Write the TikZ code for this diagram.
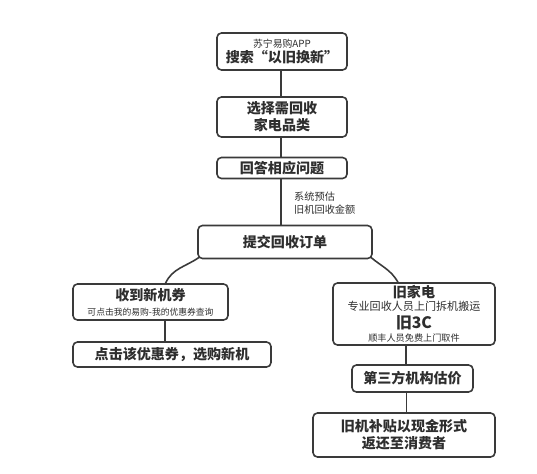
\documentclass[tikz,border=0pt]{standalone}
\usepackage{fontspec}
\usepackage{tikz}
\usetikzlibrary{positioning}
\newfontfamily\cjk{Noto Sans CJK SC}
\definecolor{boxline}{HTML}{3A3A3A}
\definecolor{boxtext}{HTML}{2E2E2E}

\begin{document}
\begin{tikzpicture}[x=0.02cm, y=-0.02cm,
  stepbox/.style={draw=boxline, line width=0.9pt, rounded corners=2.5pt, fill=white,
    align=center, inner sep=0pt, text=boxtext, font=\cjk\bfseries\fontsize{8}{9.5}\selectfont},
  small/.style={font=\cjk\fontsize{5.4}{6}\selectfont},
  link/.style={draw=boxline, line width=0.9pt}
]
  \useasboundingbox (0,0) rectangle (537,473);
  \node[stepbox, minimum width=2.6cm, minimum height=0.74cm] (app) at (282,51.5)
    {{\cjk\mdseries\fontsize{5.6}{6}\selectfont 苏宁易购APP}\\[-1pt]搜索“以旧换新”};
  \node[stepbox, minimum width=2.6cm, minimum height=0.8cm] (kind) at (282,117)
    {选择需回收\\家电品类};
  \node[stepbox, minimum width=2.6cm, minimum height=0.42cm] (answer) at (282,168)
    {回答相应问题};
  \node[stepbox, minimum width=3.48cm, minimum height=0.66cm] (order) at (285,242)
    {提交回收订单};
  \node[anchor=west, align=left, text=boxtext, font=\cjk\fontsize{5.8}{7.5}\selectfont]
    (estimate) at (288,203) {系统预估\\旧机回收金额};
  \node[stepbox, minimum width=3.1cm, minimum height=0.72cm] (coupon) at (150.5,302)
    {收到新机券\\[-1pt]{\cjk\mdseries\fontsize{5}{6}\selectfont 可点击我的易购-我的优惠券查询}};
  \node[stepbox, minimum width=3.96cm, minimum height=0.5cm] (buy) at (172,354.5)
    {点击该优惠券，选购新机};
  \node[stepbox, minimum width=3.24cm, minimum height=1.24cm] (old) at (414,314)
    {旧家电\\[-2pt]{\cjk\mdseries\fontsize{6.3}{7}\selectfont 专业回收人员上门拆机搬运}\\[0.5pt]
     {\fontsize{9}{9}\selectfont 旧3C}\\[-2pt]{\cjk\mdseries\fontsize{5.2}{6}\selectfont 顺丰人员免费上门取件}};
  \node[stepbox, minimum width=2.42cm, minimum height=0.54cm] (third) at (412.5,378.5)
    {第三方机构估价};
  \node[stepbox, minimum width=3.64cm, minimum height=0.88cm] (cash) at (404,435)
    {旧机补贴以现金形式\\返还至消费者};
  % connectors
  \draw[link] ([xshift=-0.02cm]app.south) -- ([xshift=-0.02cm]kind.north);
  \draw[link] ([xshift=-0.02cm]kind.south) -- ([xshift=-0.02cm]answer.north);
  \draw[link] ([xshift=-0.02cm]answer.south) -- ([xshift=-0.02cm]answer.south |- order.north);
  \draw[link] ([xshift=0.04cm,yshift=0.04cm]order.south west) to[out=-145, in=65] ([xshift=0.3cm]coupon.north);
  \draw[link] ([xshift=-0.04cm,yshift=0.04cm]order.south east) to[out=-40, in=120] ([xshift=-0.32cm]old.north);
  \draw[link] ([xshift=0.29cm]coupon.south) -- ([xshift=0.29cm]coupon.south |- buy.north);
  \draw[link] ([xshift=-0.16cm]old.south) -- ([xshift=-0.16cm]old.south |- third.north);
  \draw[link] ([xshift=-0.12cm]third.south) -- ([xshift=-0.12cm]third.south |- cash.north);
\end{tikzpicture}
\end{document}
